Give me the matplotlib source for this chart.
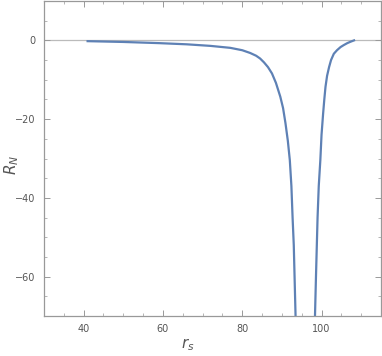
import matplotlib.pyplot as plt
from matplotlib.ticker import MultipleLocator

# values
rs_left = [41, 50, 59, 66, 72, 77, 80, 82, 83.5, 84.5, 85.5, 86.5, 87.5, 88.5, 89.6, 90.3, 90.9,
           91.5, 92.0, 92.4, 92.7, 93.0, 93.2, 93.5]
R_left = [-0.2, -0.4, -0.7, -1.0, -1.4, -1.9, -2.5, -3.2, -3.9, -4.6, -5.6, -6.8, -8.4, -10.8, -14.3,
          -17.2, -21, -25.5, -30.4, -37, -45, -52, -60, -72]
rs_right = [98.3, 98.6, 99.0, 99.3, 99.7, 100.0, 100.4, 100.7, 101.0, 101.4, 101.9, 102.4, 103.1,
            103.9, 104.8, 105.6, 106.5, 107.3, 108.2]
R_right = [-72, -60, -45, -37, -30.4, -24, -18.6, -15, -11.8, -9.0, -6.8, -5.0, -3.4, -2.5, -1.7,
           -1.2, -0.7, -0.35, 0.0]

line_color = "#5E81B5"
frame_color = "#999999"
text_color = "#555555"

fig = plt.figure(figsize=(3.82, 3.56), dpi=100)
ax = fig.add_axes([44/382, 40/356, 337/382, 315/356])

ax.axhline(0, color="#bbbbbb", lw=0.9, zorder=1)
ax.plot(rs_left, R_left, color=line_color, lw=1.6, zorder=2)
ax.plot(rs_right, R_right, color=line_color, lw=1.6, zorder=2)

ax.set_xlim(30, 115)
ax.set_ylim(-70, 10)
ax.xaxis.set_major_locator(MultipleLocator(20))
ax.xaxis.set_minor_locator(MultipleLocator(5))
ax.yaxis.set_major_locator(MultipleLocator(20))
ax.yaxis.set_minor_locator(MultipleLocator(5))

for s in ax.spines.values():
    s.set_color(frame_color)
    s.set_linewidth(0.9)

ax.tick_params(which="both", direction="in", top=True, right=True,
               color=frame_color, labelcolor=text_color, labelsize=7)
ax.tick_params(which="major", length=4, width=0.7, pad=6)
ax.tick_params(which="minor", length=2, width=0.5)

ax.set_xlabel(r"$r_s$", fontsize=11, color=text_color, va="center")
ax.set_ylabel(r"$R_N$", fontsize=11, color=text_color, va="center")
ax.xaxis.set_label_coords(0.427, -0.092)
ax.yaxis.set_label_coords(-0.095, 0.48)

fig.savefig("out.png", dpi=100)
